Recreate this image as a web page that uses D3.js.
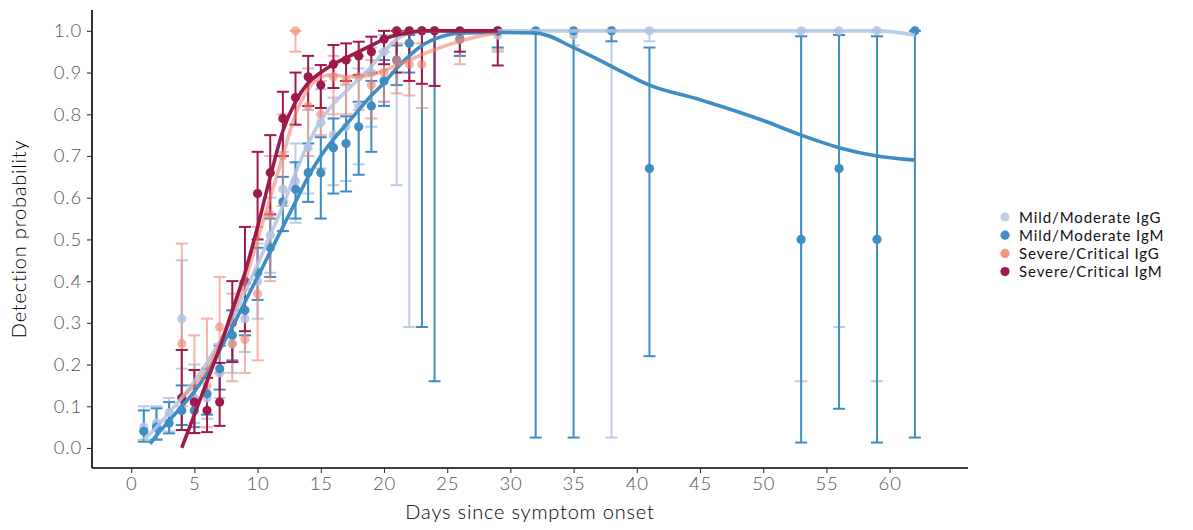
<!DOCTYPE html>
<html><head><meta charset="utf-8">
<script src="https://cdn.jsdelivr.net/npm/d3@7"></script>
<style>
html,body{margin:0;padding:0;background:#fff;}
svg text{font-family:"Lato","Noto Sans",sans-serif;}
</style></head>
<body><svg id="c" width="1193" height="530"></svg>
<script>
// ---- data: [day, probability, lower, upper] ----
const seriesNames = ["Mild/Moderate IgG","Mild/Moderate IgM","Severe/Critical IgG","Severe/Critical IgM"];
const seriesColors = ["#B3C3E2","#3E8DC3","#EE8470","#9E1A4B"];
const seriesOpacity = [0.85,1,0.6,1];

const mildIgG = [
 [1,0.05,0.02,0.10],[2,0.06,0.02,0.10],[3,0.085,0.04,0.12],[4,0.31,0.19,0.45],
 [5,0.12,0.06,0.20],[6,0.12,0.07,0.19],[7,0.18,0.12,0.25],[8,0.25,0.18,0.33],
 [9,0.31,0.23,0.40],[10,0.40,0.31,0.49],[11,0.51,0.42,0.60],[12,0.62,0.52,0.71],
 [13,0.64,0.54,0.73],[14,0.72,0.61,0.81],[15,0.78,0.67,0.86],[16,0.75,0.63,0.84],
 [17,0.77,0.64,0.87],[18,0.82,0.68,0.91],[19,0.90,0.77,0.96],[20,0.95,0.83,0.99],
 [21,1.0,0.63,1.0],[22,1.0,0.29,1.0],[26,0.99,0.94,1.0],[29,0.99,0.955,1.0],
 [35,0.99,0.965,1.0],[38,1.0,0.025,1.0],[41,1.0,0.975,1.0],[53,1.0,0.16,1.0],
 [56,1.0,0.29,1.0],[59,1.0,0.16,1.0]
];
const mildIgM = [
 [1,0.04,0.015,0.09],[2,0.05,0.02,0.095],[3,0.06,0.035,0.11],[4,0.09,0.055,0.15],
 [5,0.09,0.05,0.15],[6,0.13,0.08,0.19],[7,0.19,0.14,0.245],[8,0.27,0.21,0.33],
 [9,0.33,0.27,0.395],[10,0.42,0.355,0.48],[11,0.48,0.41,0.55],[12,0.59,0.52,0.65],
 [13,0.62,0.55,0.685],[14,0.66,0.59,0.73],[15,0.66,0.55,0.745],[16,0.72,0.61,0.79],
 [17,0.73,0.615,0.795],[18,0.77,0.655,0.83],[19,0.82,0.71,0.88],[20,0.88,0.82,0.93],
 [21,0.93,0.87,0.965],[22,0.97,0.90,0.99],[23,1.0,0.29,1.0],[24,1.0,0.16,1.0],
 [26,0.98,0.94,1.0],[29,1.0,0.96,1.0],[32,1.0,0.025,1.0],[35,1.0,0.025,1.0],
 [38,1.0,0.975,1.0],[41,0.67,0.22,0.96],[53,0.5,0.013,0.987],[56,0.67,0.094,0.99],
 [59,0.5,0.013,0.987],[62,1.0,0.025,1.0]
];
const severeIgG = [
 [4,0.25,0.10,0.49],[5,0.11,0.035,0.27],[6,0.15,0.05,0.31],[7,0.29,0.18,0.41],
 [8,0.25,0.16,0.37],[9,0.26,0.18,0.38],[10,0.37,0.21,0.53],[11,0.56,0.40,0.70],
 [12,0.70,0.58,0.80],[13,1.0,0.95,1.0],[14,0.82,0.70,0.91],[15,0.80,0.75,0.88],
 [16,0.89,0.80,0.94],[17,0.88,0.80,0.93],[18,0.89,0.81,0.94],[19,0.87,0.79,0.93],
 [20,0.90,0.83,0.95],[21,0.93,0.85,0.97],[22,0.92,0.845,0.97],[23,0.92,0.815,0.97],
 [26,0.98,0.92,1.0],[29,1.0,0.95,1.0]
];
const severeIgM = [
 [4,0.12,0.043,0.235],[5,0.11,0.036,0.187],[6,0.09,0.038,0.168],[7,0.11,0.053,0.204],
 [8,0.30,0.206,0.40],[9,0.40,0.28,0.53],[10,0.61,0.50,0.71],[11,0.66,0.56,0.75],
 [12,0.79,0.70,0.854],[13,0.84,0.775,0.90],[14,0.89,0.82,0.94],[15,0.87,0.815,0.918],
 [16,0.92,0.863,0.966],[17,0.93,0.88,0.97],[18,0.94,0.894,0.974],[19,0.95,0.90,0.986],
 [20,0.98,0.92,1.0],[21,1.0,0.90,1.0],[22,1.0,0.88,1.0],[23,1.0,0.873,1.0],
 [24,1.0,0.868,1.0],[26,1.0,0.95,1.0],[29,1.0,0.917,1.0]
];
// ---- smoothed fits: [day, probability] ----
const fitMildIgG = [[1,0.02],[2,0.05],[3,0.085],[4,0.12],[5,0.16],[6,0.205],[7,0.255],[8,0.31],[9,0.375],[10,0.44],[11,0.51],[12,0.58],[13,0.66],[14,0.73],[15,0.785],[16,0.825],[17,0.855],[18,0.885],[19,0.915],[20,0.95],[21,0.98],[22,0.995],[23,1.0],[29,1.0],[35,1.0],[41,1.0],[53,1.0],[59,1.0],[62,0.99]];
const fitMildIgM = [[1.5,0.01],[2,0.03],[3,0.065],[4,0.10],[5,0.135],[6,0.18],[7,0.235],[8,0.29],[9,0.35],[10,0.41],[11,0.47],[12,0.53],[13,0.59],[14,0.65],[15,0.70],[16,0.74],[17,0.775],[18,0.81],[19,0.845],[20,0.875],[21,0.91],[22,0.94],[23,0.965],[24,0.98],[25,0.99],[26,0.995],[29,0.996],[32,0.995],[35,0.96],[38,0.915],[41,0.87],[45,0.835],[50,0.785],[53,0.75],[56,0.72],[59,0.70],[62,0.69]];
const fitSevereIgG = [[4,0.12],[5,0.15],[6,0.19],[7,0.25],[8,0.32],[9,0.40],[10,0.50],[11,0.60],[12,0.70],[13,0.80],[14,0.86],[15,0.89],[16,0.895],[17,0.89],[18,0.89],[19,0.895],[20,0.905],[22,0.93],[24,0.955],[26,0.975],[28,0.99],[29,0.995]];
const fitSevereIgM = [[4,0.0],[5,0.08],[6,0.16],[7,0.24],[8,0.33],[9,0.42],[10,0.53],[11,0.65],[12,0.76],[13,0.83],[14,0.875],[15,0.90],[16,0.92],[17,0.935],[18,0.95],[19,0.965],[20,0.98],[21,0.99],[22,0.995],[23,1.0],[26,1.0],[29,1.0]];

const xTicks = [0,5,10,15,20,25,30,35,40,45,50,55,60];
const yTicks = [0,0.1,0.2,0.3,0.4,0.5,0.6,0.7,0.8,0.9,1.0];
const xTitle = "Days since symptom onset";
const yTitle = "Detection probability";

// ---- drawing ----
const pts = [mildIgG, mildIgM, severeIgG, severeIgM];
const fits = [fitMildIgG, fitMildIgM, fitSevereIgG, fitSevereIgM];
const svg = d3.select("#c");
const x = d3.scaleLinear().domain([-3.1, 66.2]).range([92, 968]);
const y = d3.scaleLinear().domain([-0.048, 1.05]).range([468, 10]);

const gx = svg.append("g").attr("transform","translate(0,468)")
  .call(d3.axisBottom(x).tickValues(xTicks).tickFormat(d3.format("d")).tickSize(5).tickPadding(4));
const gy = svg.append("g").attr("transform","translate(92,0)")
  .call(d3.axisLeft(y).tickValues(yTicks).tickFormat(d3.format(".1f")).tickSize(5).tickPadding(5));
[gx,gy].forEach(g=>{
  g.select(".domain").attr("stroke","#000").attr("stroke-width",1.6);
  g.selectAll(".tick line").attr("stroke","#333").attr("stroke-width",1.1);
  g.selectAll(".tick text").attr("fill","#555").attr("font-size",18.5).attr("font-family","Lato, sans-serif")
    .attr("font-weight",300).attr("letter-spacing","0.8px");
});
gx.select(".domain").attr("d","M92,0H968");
gy.select(".domain").attr("d","M0,10V468");

svg.append("text").attr("x",530).attr("y",519).attr("text-anchor","middle")
  .attr("font-size",20).attr("font-weight",300).attr("letter-spacing","0.8px").attr("fill","#000").text(xTitle);
svg.append("text").attr("transform","translate(26,239) rotate(-90)").attr("text-anchor","middle")
  .attr("font-size",20).attr("font-weight",300).attr("letter-spacing","0.8px").attr("fill","#000").text(yTitle);

const plot = svg.append("g");
// error bars
pts.forEach((s,i)=>{
  const g = plot.append("g").attr("stroke",seriesColors[i]).attr("stroke-width",2).attr("opacity",seriesOpacity[i]).attr("fill","none");
  s.forEach(d=>{
    const cx = x(d[0]);
    g.append("line").attr("x1",cx).attr("x2",cx).attr("y1",y(d[2])).attr("y2",y(d[3]));
    g.append("line").attr("x1",cx-6).attr("x2",cx+6).attr("y1",y(d[2])).attr("y2",y(d[2]));
    g.append("line").attr("x1",cx-6).attr("x2",cx+6).attr("y1",y(d[3])).attr("y2",y(d[3]));
  });
});
// points
pts.forEach((s,i)=>{
  plot.append("g").attr("fill",seriesColors[i]).attr("opacity",seriesOpacity[i])
    .selectAll("circle").data(s).join("circle")
    .attr("cx",d=>x(d[0])).attr("cy",d=>y(d[1])).attr("r",4.6);
});
// fitted lines
const line = d3.line().x(d=>x(d[0])).y(d=>y(d[1])).curve(d3.curveMonotoneX);
fits.forEach((f,i)=>{
  plot.append("path").datum(f).attr("d",line).attr("fill","none")
    .attr("stroke",seriesColors[i]).attr("stroke-width",3.6).attr("opacity",seriesOpacity[i])
    .attr("stroke-linecap","butt");
});

// legend
const lg = svg.append("g").attr("transform","translate(1005,217)");
seriesNames.forEach((n,i)=>{
  const r = lg.append("g").attr("transform",`translate(0,${i*18.2})`);
  r.append("circle").attr("r",4.6).attr("fill",seriesColors[i]).attr("opacity",seriesOpacity[i]===1?1:0.85);
  r.append("text").attr("x",14).attr("y",5.5).attr("font-size",15).attr("letter-spacing","0.9px").attr("fill","#111").text(n);
});
</script></body></html>
